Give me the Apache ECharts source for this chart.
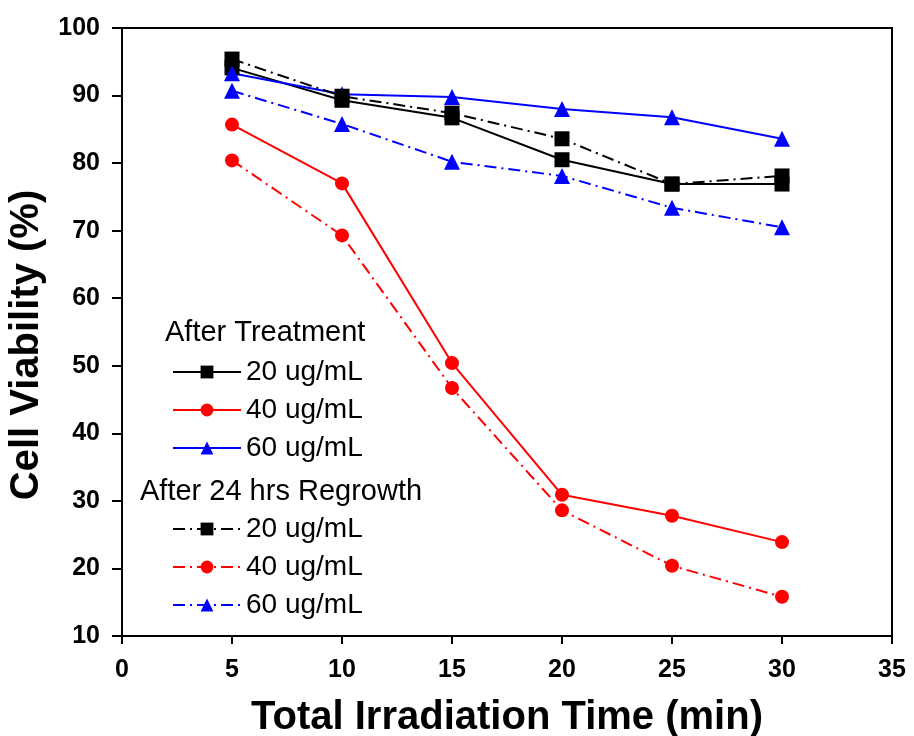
<!DOCTYPE html>
<html><head><meta charset="utf-8">
<script src="https://cdn.jsdelivr.net/npm/echarts@6/dist/echarts.min.js"></script>
<style>html,body{margin:0;padding:0;background:#fff}#c{width:914px;height:736px}</style>
</head><body><div id="c"></div>
<script>
const times = [5, 10, 15, 20, 25, 30];
const at20 = [94.1, 89.3, 86.7, 80.5, 76.9, 76.9];
const at40 = [85.7, 77.0, 50.4, 30.9, 27.8, 23.9];
const at60 = [93.3, 90.2, 89.8, 88.0, 86.8, 83.6];
const rg20 = [95.4, 89.9, 87.4, 83.6, 76.9, 78.1];
const rg40 = [80.4, 69.3, 46.7, 28.6, 20.4, 15.8];
const rg60 = [90.7, 85.8, 80.2, 78.1, 73.4, 70.5];
const legendLabels = {AT20:'20 ug/mL', AT40:'40 ug/mL', AT60:'60 ug/mL', RG20:'20 ug/mL', RG40:'40 ug/mL', RG60:'60 ug/mL'};
const dashDot = [12, 5, 2, 5];

function pts(vals){ return times.map((t,i)=>[t, vals[i]]); }
function ser(name, vals, color, symbol, size, dash){
  return {name, type:'line', data:pts(vals), symbol, symbolSize:size,
    itemStyle:{color}, lineStyle:{color, width:2, type: dash ? dashDot : 'solid'},
    emphasis:{disabled:true}, animation:false};
}
const chart = echarts.init(document.getElementById('c'));
const legendCommon = {orient:'vertical', itemWidth:68, itemHeight:16, itemGap:10,
  textStyle:{fontFamily:'Liberation Sans, Arial', fontSize:28, lineHeight:28, color:'#000'},
  formatter: n => legendLabels[n], selectedMode:false};
chart.setOption({
  backgroundColor:'#fff',
  grid:{left:122, right:22, top:28, bottom:100, show:true, borderColor:'#000', borderWidth:2,
    containLabel:false, outerBoundsMode:'none'},
  xAxis:{type:'value', min:0, max:35, interval:5,
    axisLine:{lineStyle:{color:'#000', width:2}},
    axisTick:{inside:false, length:8, lineStyle:{color:'#000', width:2}},
    splitLine:{show:false},
    axisLabel:{color:'#000', fontFamily:'Liberation Sans, Arial', fontWeight:'bold', fontSize:25, margin:22},
    name:'Total Irradiation Time (min)', nameLocation:'middle', nameGap:62,
    nameTextStyle:{color:'#000', fontFamily:'Liberation Sans, Arial', fontWeight:'bold', fontSize:40}},
  yAxis:{type:'value', min:10, max:100, interval:10,
    axisLine:{lineStyle:{color:'#000', width:2}},
    axisTick:{inside:false, length:10, lineStyle:{color:'#000', width:2}},
    splitLine:{show:false},
    axisLabel:{color:'#000', fontFamily:'Liberation Sans, Arial', fontWeight:'bold', fontSize:25, margin:22},
    name:'Cell Viability (%)', nameLocation:'middle', nameGap:70,
    nameTextStyle:{color:'#000', fontFamily:'Liberation Sans, Arial', fontWeight:'bold', fontSize:40, padding:[0,26,0,0]}},
  legend:[
    Object.assign({left:167, top:353, data:['AT20','AT40','AT60']}, legendCommon),
    Object.assign({left:167, top:510, data:['RG20','RG40','RG60']}, legendCommon)
  ],
  graphic:[
    {type:'text', left:165, top:318, style:{text:'After Treatment', font:'29px "Liberation Sans", Arial', fill:'#000'}},
    {type:'text', left:140, top:477, style:{text:'After 24 hrs Regrowth', font:'29px "Liberation Sans", Arial', fill:'#000'}}
  ],
  series:[
    ser('AT20', at20, '#000000', 'rect', 15, false),
    ser('AT40', at40, '#ff0000', 'circle', 14, false),
    ser('AT60', at60, '#0000ff', 'triangle', 16, false),
    ser('RG20', rg20, '#000000', 'rect', 15, true),
    ser('RG40', rg40, '#ff0000', 'circle', 14, true),
    ser('RG60', rg60, '#0000ff', 'triangle', 16, true)
  ]
});
</script></body></html>
